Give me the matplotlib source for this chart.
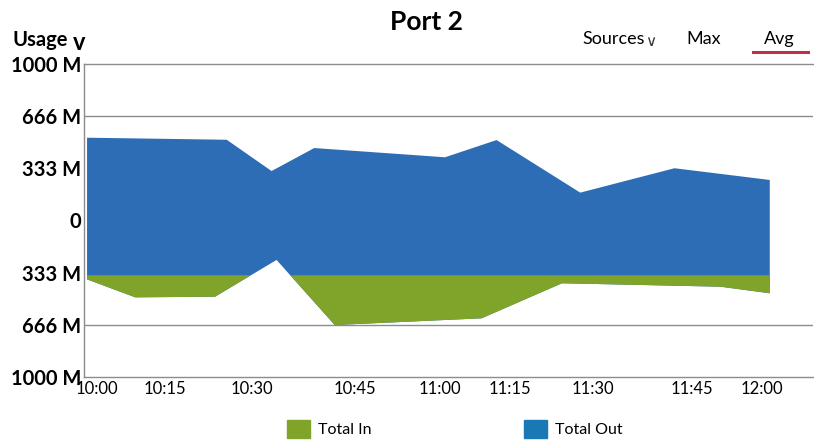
import matplotlib
matplotlib.use('Agg')
import matplotlib.pyplot as plt
import matplotlib.patches as patches
import numpy as np

plt.rcParams['font.family'] = ['Lato', 'DejaVu Sans']

# 時刻は 10:00 からの分数、値は M 単位
out_x = [-1.8, 23.4, 31.5, 39.2, 62.8, 72.1, 87.2, 104.2, 121.4]
out_top = [529, 516, 316, 463, 404, 514, 178, 334, 259]

in_x = [-1.8, 6.9, 21.3, 32.4, 42.9, 69.4, 83.9, 112.5, 121.4]
in_bottom = [-376, -491, -487, -252, -668, -625, -401, -423, -465]

split_level = -350  # 青と緑の境目

tick_minutes = [0, 12.3, 28.0, 46.6, 61.9, 74.5, 89.5, 107.4, 120]
tick_labels = ['10:00', '10:15', '10:30', '10:45', '11:00', '11:15', '11:30', '11:45', '12:00']

y_ticks = [1000, 666, 333, 0, -333, -666, -1000]
y_labels = ['1000 M', '666 M', '333 M', '0', '333 M', '666 M', '1000 M']

blue = '#2c6db6'
green = '#80a42a'
grid_col = '#8c8c8c'

fig = plt.figure(figsize=(8.14, 4.43), dpi=100)
ax = fig.add_axes([84 / 814, 1 - 377 / 443, (813 - 84) / 814, (377 - 64) / 443])

# 全体（青）
poly_x = np.r_[out_x, in_x[::-1]]
poly_y = np.r_[out_top, in_bottom[::-1]]
ax.fill(poly_x, poly_y, color=blue, lw=0, zorder=2)

# 境目より下（緑）
ix = np.array(in_x)
iy = np.array(in_bottom)
ax.fill_between(ix, iy, split_level, where=iy < split_level, interpolate=True,
                color=green, lw=0, zorder=3)

for v in (666, -666):
    ax.axhline(v, color=grid_col, lw=1.0, zorder=1)

ax.set_xlim(-2.35, 129.2)
ax.set_ylim(-1000, 1000)

ax.set_yticks(y_ticks)
ax.set_yticklabels(y_labels, fontsize=14.5, fontweight='bold')
ax.set_xticks(tick_minutes)
ax.set_xticklabels(tick_labels, fontsize=12)
ax.tick_params(axis='both', length=0, pad=3)
ax.tick_params(axis='y', pad=2)

ax.spines['right'].set_visible(False)
for s in ('left', 'top', 'bottom'):
    ax.spines[s].set_color(grid_col)
    ax.spines[s].set_linewidth(1.0)

# タイトルとヘッダー
fig.text(427 / 814, 1 - 22 / 443, 'Port 2', ha='center', va='center',
         fontsize=19, fontweight='bold')
fig.text(12 / 814, 1 - 40 / 443, 'Usage', ha='left', va='center',
         fontsize=14.5, fontweight='bold')
fig.text(73 / 814, 1 - 42 / 443, 'v', ha='left', va='center',
         fontsize=17, fontweight='bold')
fig.text(582 / 814, 1 - 39 / 443, 'Sources', ha='left', va='center', fontsize=13)
fig.text(645 / 814, 1 - 41 / 443, '\u2228', ha='left', va='center', fontsize=11,
         family=['DejaVu Sans'], color='#333333')
fig.text(704 / 814, 1 - 39 / 443, 'Max', ha='center', va='center', fontsize=13)
fig.text(779 / 814, 1 - 39 / 443, 'Avg', ha='center', va='center', fontsize=13)
fig.add_artist(plt.Line2D([753 / 814, 808 / 814], [1 - 52 / 443, 1 - 52 / 443],
                          color='#c0304a', lw=2.2))

# 凡例
handles = [patches.Patch(color=green, label='Total In'),
           patches.Patch(color='#1a78b4', label='Total Out')]
fig.legend(handles=handles, loc='center', bbox_to_anchor=(455 / 814, 1 - 429 / 443),
           ncol=2, frameon=False, fontsize=11.5, handlelength=1.45, handleheight=1.45,
           handletextpad=0.5, columnspacing=9.55)

fig.savefig('out.png', dpi=100)
